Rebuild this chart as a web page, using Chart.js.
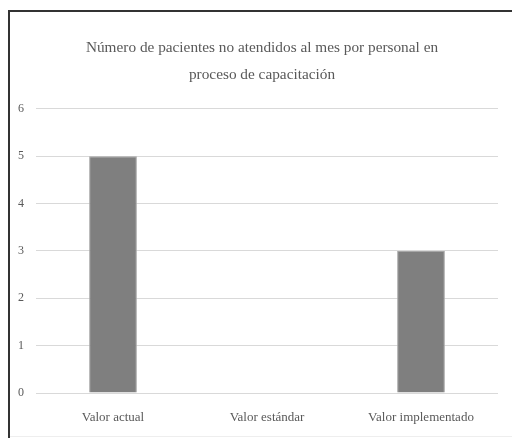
<!DOCTYPE html>
<html>
<head>
<meta charset="utf-8">
<script src="https://cdn.jsdelivr.net/npm/chart.js@4"></script>
<style>
  html, body { margin: 0; padding: 0; background: #fff; }
  body { width: 512px; height: 438px; position: relative; overflow: hidden; }
  #marco {
    position: absolute; left: 8px; top: 10px; width: 504px; height: 428px;
    border-top: 2px solid #333; border-left: 2px solid #333; box-sizing: border-box;
  }
  #marco .fondo {
    position: absolute; left: 0; right: 0; bottom: 1px; height: 1px; background: #eee;
  }
  #wrap { position: absolute; left: 10px; top: 12px; width: 502px; height: 426px; }
</style>
</head>
<body>
<div id="marco"><div class="fondo"></div></div>
<div id="wrap"><canvas id="grafico"></canvas></div>
<script>
// categorias y valores
var categorias = ['Valor actual', 'Valor estándar', 'Valor implementado'];
var pacientes = [5, 0, 3];
var titulo = ['Número de pacientes no atendidos al mes por personal en', 'proceso de capacitación'];

var ctx = document.getElementById('grafico').getContext('2d');

// el titulo del original esta un poco corrido a la derecha
var moverTitulo = {
    id: 'moverTitulo',
    afterLayout: function (chart) {
        if (chart.titleBlock) {
            chart.titleBlock.left += 8;
            chart.titleBlock.right += 8;
        }
    }
};

var grafico = new Chart(ctx, {
    type: 'bar',
    data: {
        labels: categorias,
        datasets: [{
            label: 'Pacientes',
            data: pacientes,
            backgroundColor: '#7f7f7f',
            borderColor: '#a6a6a6',
            borderWidth: 1,
            barPercentage: 0.31,
            categoryPercentage: 1
        }]
    },
    plugins: [moverTitulo],
    options: {
        responsive: true,
        maintainAspectRatio: false,
        animation: false,
        layout: { padding: { top: 0, right: 14, left: 0, bottom: 0 } },
        plugins: {
            legend: { display: false },
            tooltip: { enabled: false },
            title: {
                display: true,
                text: titulo,
                color: '#595959',
                font: { family: 'Liberation Serif', size: 15.3, weight: 'normal', lineHeight: 1.76 },
                padding: { top: 23, bottom: 20 }
            }
        },
        scales: {
            x: {
                grid: { display: false },
                border: { display: false },
                ticks: {
                    color: '#595959',
                    padding: 9,
                    font: { family: 'Liberation Serif', size: 13 }
                },
                afterFit: function (scale) { scale.height = 45; }
            },
            y: {
                min: 0,
                max: 6,
                grid: { color: '#d9d9d9', lineWidth: 1, drawTicks: false },
                border: { display: false },
                ticks: {
                    stepSize: 1,
                    color: '#595959',
                    padding: 12,
                    font: { family: 'Liberation Serif', size: 12 }
                },
                afterFit: function (scale) { scale.width = 26; }
            }
        }
    }
});
</script>
</body>
</html>
